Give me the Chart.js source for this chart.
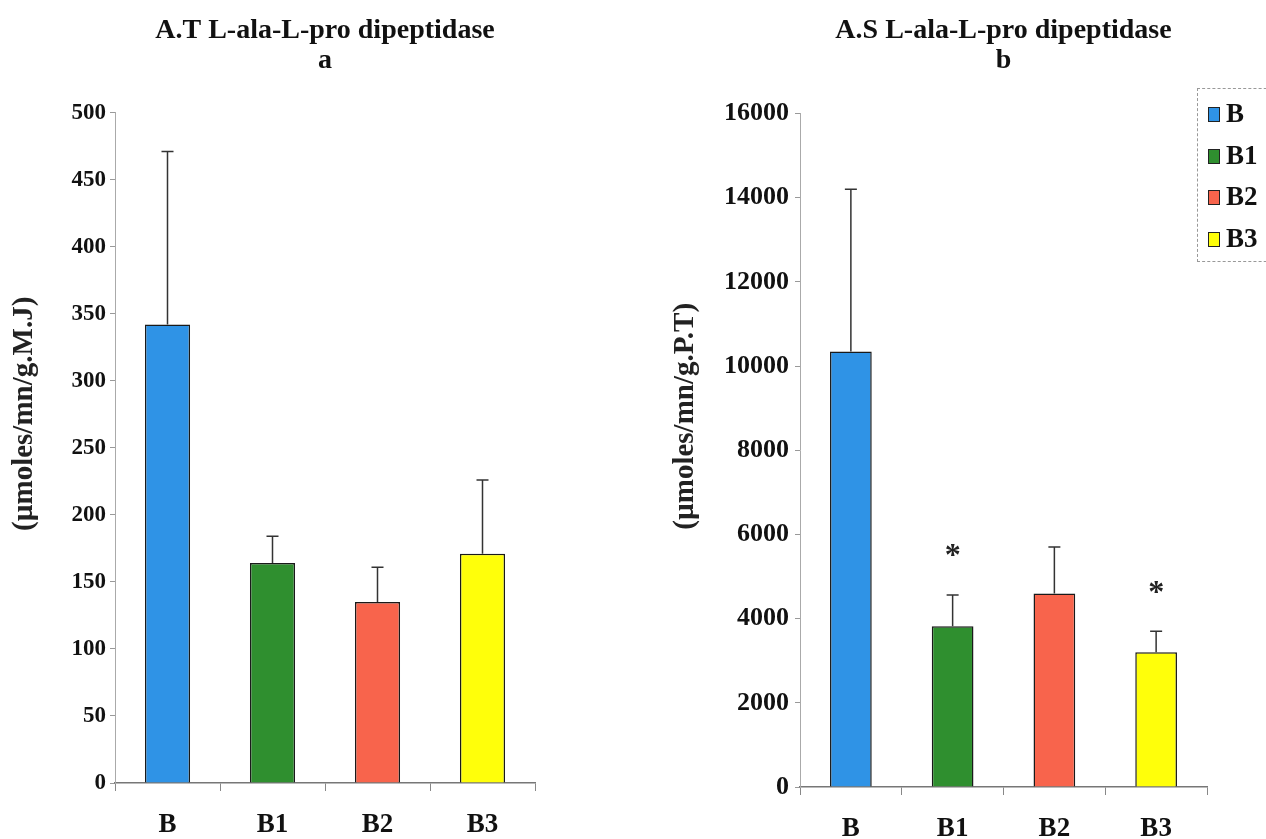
<!DOCTYPE html>
<html>
<head>
<meta charset="utf-8">
<script src="https://cdn.jsdelivr.net/npm/chart.js@4.4.0/dist/chart.umd.min.js"></script>
<style>
  body { margin: 0; background: #fff; width: 1266px; height: 839px; overflow: hidden; position: relative; }
  #chartA { position: absolute; left: 0; top: 0; }
  #chartB { position: absolute; left: 640px; top: 0; }
  #legend { position: absolute; left: 1197px; top: 88px; width: 80px; height: 174px;
            border: 1px dashed #999; box-sizing: border-box; font: bold 27px "Liberation Serif", serif; color: #111; }
  .item { position: absolute; left: 10px; height: 28px; line-height: 28px; }
  .swatch { display: inline-block; width: 10px; height: 13px; border: 1px solid #222; margin-right: 6px; vertical-align: 0px; }
</style>
</head>
<body>
<canvas id="chartA" width="560" height="839"></canvas>
<canvas id="chartB" width="626" height="839"></canvas>
<div id="legend"></div>

<script>
// groups
const categories = ['B', 'B1', 'B2', 'B3'];
const barColors = ['#2f93e6', '#2f8f2f', '#f8644c', '#ffff0a'];

// chart a : A.T L-ala-L-pro dipeptidase
const meansA = [342, 164, 135, 171];
const sdA = [129, 20, 26, 55];
const starsA = ['', '', '', ''];
const ticksA = [0, 50, 100, 150, 200, 250, 300, 350, 400, 450, 500];

// chart b : A.S L-ala-L-pro dipeptidase
const meansB = [10350, 3820, 4600, 3200];
const sdB = [3850, 740, 1100, 500];
const starsB = ['', '*', '', '*'];
const ticksB = [0, 2000, 4000, 6000, 8000, 10000, 12000, 14000, 16000];

const serif = '"Liberation Serif", "Times New Roman", serif';

// error bars + asterisks on top of the bars
const errorBars = {
  id: 'errorBars',
  afterDatasetsDraw(chart, args, opts) {
    const ctx = chart.ctx;
    const meta = chart.getDatasetMeta(0);
    const y = chart.scales.y;
    ctx.save();
    ctx.strokeStyle = '#333';
    ctx.lineWidth = 1.5;
    meta.data.forEach((bar, i) => {
      const top = y.getPixelForValue(opts.means[i] + opts.sd[i]);
      ctx.beginPath();
      ctx.moveTo(bar.x, bar.y);
      ctx.lineTo(bar.x, top);
      ctx.moveTo(bar.x - 6, top);
      ctx.lineTo(bar.x + 6, top);
      ctx.stroke();
      if (opts.stars[i]) {
        ctx.fillStyle = '#222';
        ctx.font = 'bold 32px ' + serif;
        ctx.textAlign = 'center';
        ctx.textBaseline = 'middle';
        ctx.fillText(opts.stars[i], bar.x, top - 38);
      }
    });
    ctx.restore();
  }
};

// rotated y title, sitting a bit above the plot middle like the original
const sideTitle = {
  id: 'sideTitle',
  afterDraw(chart, args, opts) {
    const ctx = chart.ctx;
    const area = chart.chartArea;
    ctx.save();
    ctx.translate(opts.x, (area.top + area.bottom) / 2 - 34);
    ctx.rotate(-Math.PI / 2);
    ctx.font = 'bold 29px ' + serif;
    ctx.fillStyle = '#222';
    ctx.textAlign = 'center';
    ctx.textBaseline = 'middle';
    ctx.fillText(opts.text, 0, 0);
    ctx.restore();
  }
};

function makeChart(id, title, means, sd, stars, ticks, yLabel, o) {
  return new Chart(document.getElementById(id), {
    type: 'bar',
    data: {
      labels: categories,
      datasets: [{
        data: means,
        backgroundColor: barColors,
        borderColor: '#1a1a1a',
        borderWidth: 1.5,
        borderSkipped: 'bottom',
        categoryPercentage: 1,
        barPercentage: o.barPct
      }]
    },
    options: {
      responsive: false,
      animation: false,
      layout: { padding: { right: o.padRight, bottom: 0 } },
      plugins: {
        legend: { display: false },
        tooltip: { enabled: false },
        title: {
          display: true,
          fullSize: false,
          text: title,
          color: '#111',
          font: { family: serif, size: 28, weight: 'bold', lineHeight: 1.1 },
          padding: { top: 15, bottom: o.titleGap }
        },
        errorBars: { means: means, sd: sd, stars: stars },
        sideTitle: { text: yLabel, x: o.labelX }
      },
      scales: {
        x: {
          grid: { drawOnChartArea: false, drawTicks: true, tickLength: 8, color: '#888' },
          border: { color: '#777', width: 1.5 },
          ticks: { color: '#111', padding: o.xPad, font: { family: serif, size: 27, weight: 'bold' } },
          afterFit(scale) { scale.height = o.xHeight; }
        },
        y: {
          min: 0,
          max: ticks[ticks.length - 1],
          afterBuildTicks(scale) { scale.ticks = ticks.map(v => ({ value: v })); },
          grid: { drawOnChartArea: false, drawTicks: true, tickLength: 5, color: '#999' },
          border: { color: '#aaa', width: 1 },
          ticks: {
            color: '#111', padding: o.tickPad,
            font: { family: serif, size: o.tickSize, weight: 'bold' },
            callback: v => String(v)
          },
          afterFit(scale) { scale.width = o.yWidth; }
        }
      }
    },
    plugins: [errorBars, sideTitle]
  });
}

makeChart('chartA', ['A.T L-ala-L-pro dipeptidase', 'a'], meansA, sdA, starsA, ticksA,
  '(\u00b5moles/mn/g.M.J)',
  { barPct: 0.43, padRight: 25, yWidth: 115, xHeight: 56, titleGap: 36, labelX: 25,
    tickSize: 23, tickPad: 4, xPad: 18 });

makeChart('chartB', ['A.S L-ala-L-pro dipeptidase', 'b'], meansB, sdB, starsB, ticksB,
  '(\u00b5moles/mn/g.P.T)',
  { barPct: 0.41, padRight: 59, yWidth: 160, xHeight: 52, titleGap: 37, labelX: 46,
    tickSize: 26, tickPad: 6, xPad: 18 });

// legend box on the right edge
const legend = document.getElementById('legend');
categories.forEach((c, i) => {
  const item = document.createElement('div');
  item.className = 'item';
  item.style.top = (10 + i * 41.5) + 'px';
  item.innerHTML = '<span class="swatch" style="background:' + barColors[i] + '"></span>' + c;
  legend.appendChild(item);
});
</script>
</body>
</html>
